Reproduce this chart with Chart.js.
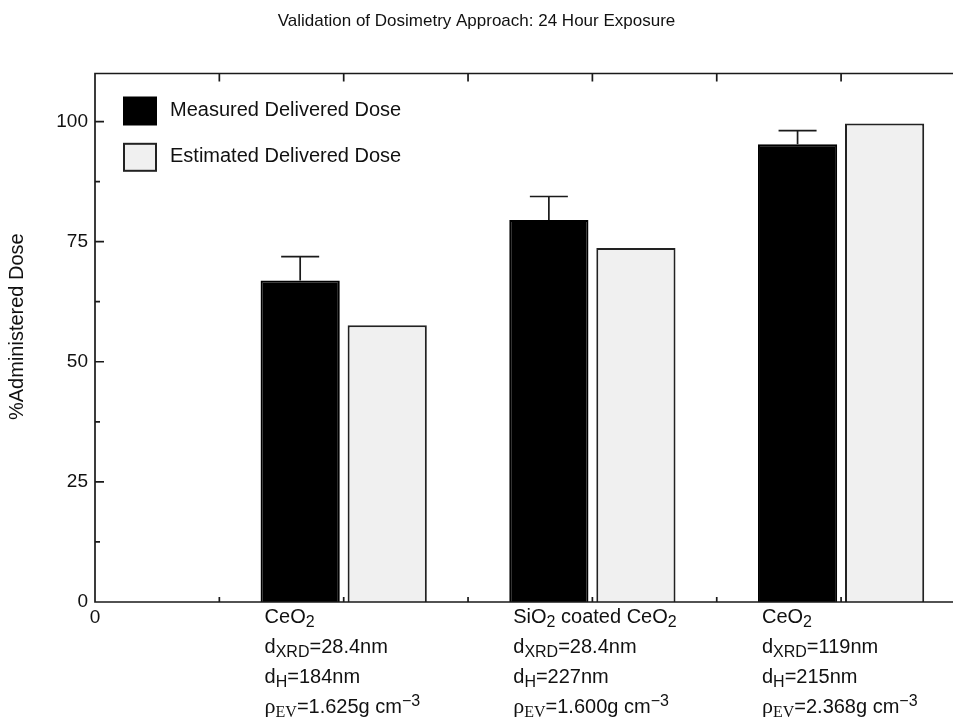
<!DOCTYPE html>
<html lang="en">
<head>
  <meta charset="UTF-8">
  <title>Validation of Dosimetry Approach</title>
  <script src="https://cdn.jsdelivr.net/npm/chart.js"></script>
  <style>
    html, body {
      margin: 0;
      padding: 0;
      background: #fff;
      overflow: hidden;
    }

    .chart-box {
      width: 953px;
      height: 717px;
    }
  </style>
</head>

<body>
  <div class="chart-box"><canvas id="doseChart"></canvas></div>

  <script>
    // data
    const groupPos = [2, 4, 6];
    const measured = [66.9, 79.5, 95.3];
    const measuredErr = [5.0, 4.9, 2.8];
    const estimated = [57.6, 73.7, 99.6];
    const seriesNames = ['Measured Delivered Dose', 'Estimated Delivered Dose'];
    const yTicks = [0, 25, 50, 75, 100];
    const xTicks = [0, 1, 2, 3, 4, 5, 6];
    // _{..} = subscript, ^{..} = superscript
    const catLabels = [
      ['CeO_{2}', 'd_{XRD}=28.4nm', 'd_{H}=184nm', 'ρ_{EV}=1.625g cm^{−3}'],
      ['SiO_{2} coated CeO_{2}', 'd_{XRD}=28.4nm', 'd_{H}=227nm', 'ρ_{EV}=1.600g cm^{−3}'],
      ['CeO_{2}', 'd_{XRD}=119nm', 'd_{H}=215nm', 'ρ_{EV}=2.368g cm^{−3}']
    ];

    const SANS = '"Liberation Sans", Arial, Helvetica, sans-serif';
    const SERIF = '"Liberation Serif", "Times New Roman", serif';
    const INK = '#111';

    // text with sub/superscripts
    function drawRich(ctx, str, x, y) {
      const parts = str.split(/([_^]\{[^}]*\})/).filter(Boolean);
      let serif = false;
      ctx.textBaseline = 'alphabetic';
      ctx.textAlign = 'left';
      parts.forEach(p => {
        let t = p, size = 20, dy = 0, fam = SANS;
        if (p[0] === '_') {
          t = p.slice(2, -1); size = 16; dy = 4;
          if (serif) fam = SERIF;
        } else if (p[0] === '^') {
          t = p.slice(2, -1); size = 16; dy = -7;
        } else if (p === 'ρ') {
          fam = SERIF; size = 22; serif = true;
        } else {
          serif = false;
        }
        ctx.font = size + 'px ' + fam;
        ctx.fillText(t, x, y + dy);
        x += ctx.measureText(t).width;
      });
    }

    const decor = {
      id: 'decor',
      afterDatasetsDraw(chart) {
        const { ctx, chartArea: a, scales: { x, y } } = chart;
        ctx.save();
        ctx.strokeStyle = '#1a1a1a';
        ctx.lineWidth = 1.7;
        ctx.beginPath();
        // frame (right edge falls outside the picture)
        ctx.moveTo(a.right + 2, a.top);
        ctx.lineTo(a.left, a.top);
        ctx.lineTo(a.left, a.bottom);
        ctx.lineTo(a.right + 2, a.bottom);
        // inward ticks
        for (let v = 0; v <= y.max; v += 12.5) {
          const py = y.getPixelForValue(v);
          ctx.moveTo(a.left, py);
          ctx.lineTo(a.left + (v % 25 === 0 ? 9 : 5), py);
        }
        xTicks.forEach(v => {
          if (v === 0) return;
          const px = x.getPixelForValue(v);
          ctx.moveTo(px, a.top);
          ctx.lineTo(px, a.top + 8);
          ctx.moveTo(px, a.bottom);
          ctx.lineTo(px, a.bottom - 5);
        });
        ctx.stroke();

        // error bars on measured dose
        const meta = chart.getDatasetMeta(0);
        ctx.beginPath();
        meta.data.forEach((bar, i) => {
          const top = y.getPixelForValue(measured[i] + measuredErr[i]);
          ctx.moveTo(bar.x, bar.y);
          ctx.lineTo(bar.x, top);
          ctx.moveTo(bar.x - 19, top);
          ctx.lineTo(bar.x + 19, top);
        });
        ctx.stroke();
        ctx.restore();
      },
      afterDraw(chart) {
        const { ctx, chartArea: a } = chart;
        ctx.save();
        ctx.fillStyle = INK;

        // legend inside the plot
        chart.data.datasets.forEach((ds, i) => {
          const bx = a.left + 29;
          const by = a.top + 24 + i * 46.3;
          ctx.fillStyle = ds.backgroundColor;
          ctx.strokeStyle = ds.borderColor;
          ctx.lineWidth = 2;
          ctx.fillRect(bx, by, 32, 27);
          ctx.strokeRect(bx, by, 32, 27);
          ctx.fillStyle = INK;
          ctx.font = '20px ' + SANS;
          ctx.textBaseline = 'middle';
          ctx.textAlign = 'left';
          ctx.fillText(ds.label, bx + 46, by + 13);
        });

        // category labels under each group
        const meta = chart.getDatasetMeta(0);
        meta.data.forEach((bar, i) => {
          const lx = bar.x - bar.width / 2 + 4;
          catLabels[i].forEach((line, k) => {
            drawRich(ctx, line, lx, a.bottom + 21 + k * 30);
          });
        });
        ctx.restore();
      }
    };

    new Chart(document.getElementById('doseChart'), {
      type: 'bar',
      data: {
        datasets: [{
          label: seriesNames[0],
          data: groupPos.map((p, i) => ({ x: p, y: measured[i] })),
          backgroundColor: '#000',
          borderColor: '#000',
          borderWidth: 2,
          categoryPercentage: 1.4,
          barPercentage: 0.91
        }, {
          label: seriesNames[1],
          data: groupPos.map((p, i) => ({ x: p, y: estimated[i] })),
          backgroundColor: '#f0f0f0',
          borderColor: '#222',
          borderWidth: 2,
          categoryPercentage: 1.4,
          barPercentage: 0.91
        }]
      },
      options: {
        responsive: true,
        maintainAspectRatio: false,
        animation: false,
        layout: { padding: 0 },
        plugins: {
          legend: { display: false },
          tooltip: { enabled: false },
          title: {
            display: true,
            text: 'Validation of Dosimetry Approach: 24 Hour Exposure',
            color: INK,
            font: { family: SANS, size: 17, weight: 'normal' },
            padding: { top: 11, bottom: 42.1 }
          }
        },
        scales: {
          x: {
            type: 'linear',
            offset: false,
            min: 0,
            max: 6.9,
            grid: { display: false, drawTicks: false, offset: false },
            border: { display: false },
            afterBuildTicks: s => { s.ticks = xTicks.map(v => ({ value: v })); },
            ticks: {
              callback: v => (v === 0 ? '0' : ''),
              autoSkip: false,
              maxRotation: 0,
              padding: 4,
              color: INK,
              font: { family: SANS, size: 19 }
            },
            afterFit: s => { s.height = 115; }
          },
          y: {
            min: 0,
            max: 110,
            grid: { display: false, drawTicks: false },
            border: { display: false },
            afterBuildTicks: s => { s.ticks = yTicks.map(v => ({ value: v })); },
            ticks: {
              padding: 7,
              color: INK,
              font: { family: SANS, size: 19 }
            },
            title: {
              display: true,
              // leading spaces nudge the title up like in the original
              text: '    %Administered Dose',
              color: INK,
              font: { family: SANS, size: 20 },
              padding: { top: 5, bottom: 0 }
            },
            afterFit: s => { s.width = 95; }
          }
        }
      },
      plugins: [decor]
    });
  </script>
</body>

</html>
